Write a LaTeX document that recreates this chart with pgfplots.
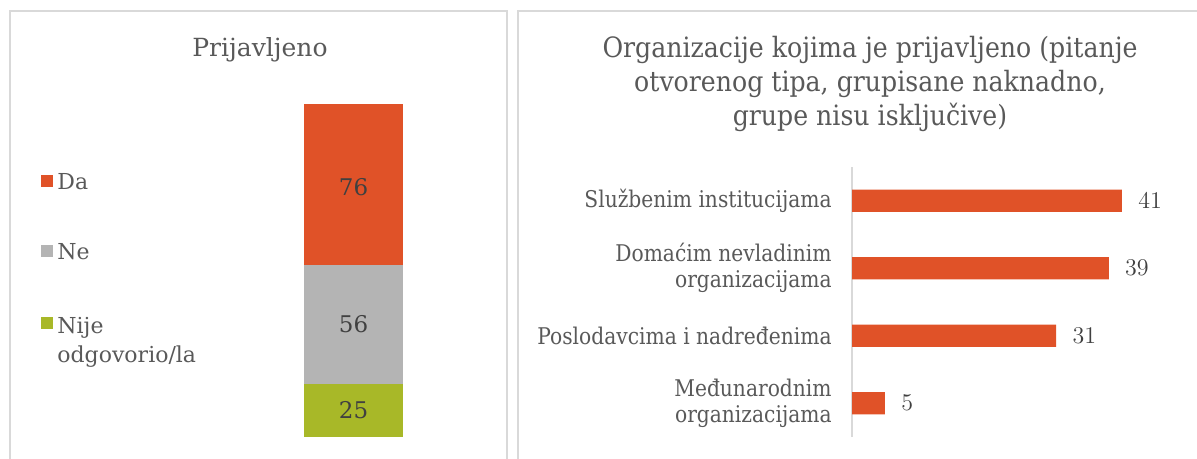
\documentclass[border=0pt]{standalone}
\usepackage{pgfplots}
\pgfplotsset{compat=1.18}
\usepackage{fontspec}
\setmainfont{DejaVu Serif}
\newfontfamily\condfont{DejaVu Serif}[FakeStretch=0.88]
\newfontfamily\titlefont{DejaVu Serif}[FakeStretch=0.9]
\definecolor{cOrange}{HTML}{E05228}
\definecolor{cGray}{HTML}{B4B4B4}
\definecolor{cGreen}{HTML}{A8B828}
\definecolor{cText}{HTML}{595959}
\definecolor{cBorder}{HTML}{D9D9D9}
\begin{document}
\begin{tikzpicture}
\useasboundingbox (0,0) rectangle (598.5pt,-229.5pt);
\draw[cBorder, line width=1pt] (5pt,-5.5pt) rectangle (253.5pt,-250pt);
\draw[cBorder, line width=1pt] (259pt,-5.5pt) rectangle (605pt,-250pt);
% left title
\node[text=cText, font=\fontsize{12.5}{15}\selectfont] at (130pt,-25pt) {Prijavljeno};
% right title
\node[text=cText, align=center, font=\titlefont\fontsize{14}{17}\selectfont] at (435pt,-42pt)
  {Organizacije kojima je prijavljeno (pitanje\\otvorenog tipa, grupisane naknadno,\\grupe nisu isključive)};
% left stacked bar
\begin{axis}[
  at={(152pt,-218.5pt)}, anchor=south west,
  scale only axis, width=49.5pt, height=166.5pt,
  xmin=-0.5, xmax=0.5, ymin=0, ymax=157,
  hide axis,
  ybar stacked, bar width=1,
  reverse legend,
  legend cell align=left,
  legend image code/.code={\draw[#1,draw=none] (0pt,-2pt) rectangle (6pt,4pt);},
  legend style={draw=none, fill=none, at={(axis description cs:-2.717,0.818)}, anchor=north west,
    font=\fontsize{11}{14.5}\selectfont, text=cText, row sep=21.5pt},
]
\addplot[fill=cGreen, draw=none] coordinates {(0,25)};
\addplot[fill=cGray, draw=none] coordinates {(0,56)};
\addplot[fill=cOrange, draw=none] coordinates {(0,76)};
\legend{{\begin{tabular}[t]{@{}l@{}}Nije\\odgovorio/la\end{tabular}},Ne,Da}
\end{axis}
% labels of stacked bar
\begin{axis}[
  at={(152pt,-218.5pt)}, anchor=south west,
  scale only axis, width=49.5pt, height=166.5pt,
  xmin=-0.5, xmax=0.5, ymin=0, ymax=157,
  hide axis,
]
\addplot[only marks, mark=text, text mark={},
  nodes near coords, point meta=explicit symbolic,
  every node near coord/.style={anchor=center, text=black!75, font=\fontsize{11.5}{13}\selectfont}]
  coordinates {(0,12.5)[25] (0,53)[56] (0,118)[76]};
\end{axis}
% right horizontal bars
\begin{axis}[
  at={(426pt,-218.5pt)}, anchor=south west,
  scale only axis, width=164.6pt, height=135pt,
  xmin=0, xmax=50, ymin=-0.5, ymax=3.5,
  xbar, bar width=0.333,
  hide x axis,
  axis y line*=left,
  y axis line style={cBorder, line width=0.75pt, -},
  ytick={0,1,2,3},
  yticklabels={{Međunarodnim\\organizacijama},{Poslodavcima i nadređenima},{Domaćim nevladinim\\organizacijama},{Službenim institucijama}},
  major tick length=0pt,
  y tick label style={align=right, inner sep=0pt, xshift=-10pt, text=cText, font=\condfont\fontsize{11.5}{13}\selectfont},
  nodes near coords,
  every node near coord/.append style={anchor=west, inner sep=0pt, xshift=8pt, text=black!75, font=\condfont\fontsize{13}{14}\selectfont},
]
\addplot[fill=cOrange, draw=none] coordinates {(5,0) (31,1) (39,2) (41,3)};
\end{axis}
\end{tikzpicture}
\end{document}
